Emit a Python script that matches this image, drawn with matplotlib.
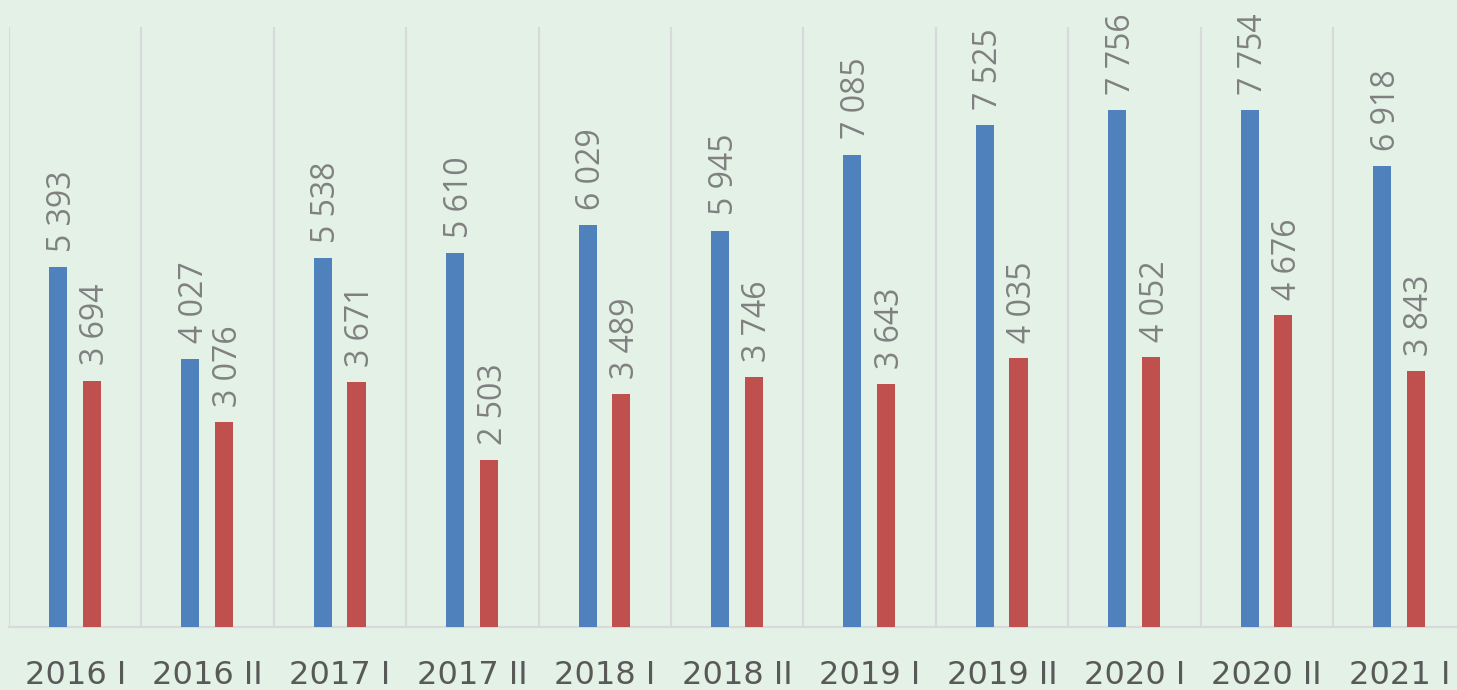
import numpy as np
import matplotlib.pyplot as plt

periods = ['2016 I', '2016 II', '2017 I', '2017 II', '2018 I', '2018 II',
           '2019 I', '2019 II', '2020 I', '2020 II', '2021 I']
blue_vals = [5393, 4027, 5538, 5610, 6029, 5945, 7085, 7525, 7756, 7754, 6918]
red_vals = [3694, 3076, 3671, 2503, 3489, 3746, 3643, 4035, 4052, 4676, 3843]

bg = '#E4F1E7'
plt.rcParams['font.family'] = ['Open Sans', 'DejaVu Sans']

fig = plt.figure(figsize=(14.57, 6.9), dpi=100, facecolor=bg)
ax = fig.add_axes([9 / 1457, 63 / 690, 11 * 132.4 / 1457, 600 / 690])
ax.set_facecolor(bg)

x = np.arange(len(periods))
w = 0.137
b1 = ax.bar(x - 0.13, blue_vals, w, color='#4F81BD', zorder=3)
b2 = ax.bar(x + 0.125, red_vals, w, color='#C0504D', zorder=3)

def fmt(v):
    return f'{v:,}'.replace(',', ' ')

for bars, vals in ((b1, blue_vals), (b2, red_vals)):
    for r, v in zip(bars, vals):
        ax.annotate(fmt(v), (r.get_x() + r.get_width() / 2, v),
                    xytext=(3, 11), textcoords='offset points',
                    rotation=90, ha='center', va='bottom',
                    fontsize=23, color='#808080', clip_on=False)

for i in range(len(periods) + 1):
    ax.axvline(i - 0.5, color='#D9D9D9', lw=1.5, zorder=1)

ax.set_xlim(-0.5, len(periods) - 0.5)
ax.set_ylim(0, 9000)
ax.set_xticks(x)
ax.set_xticklabels(periods, fontsize=23, color='#595959', family='DejaVu Sans')
ax.tick_params(axis='x', length=0, pad=24)
ax.set_yticks([])
for s in ('top', 'right', 'left'):
    ax.spines[s].set_visible(False)
ax.spines['bottom'].set_color('#D9D9D9')
ax.spines['bottom'].set_linewidth(1.5)

plt.savefig('out.png', dpi=100, facecolor=bg)
